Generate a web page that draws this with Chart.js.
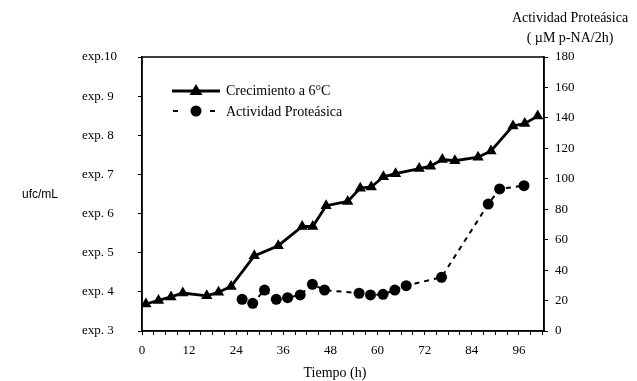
<!DOCTYPE html>
<html>
<head>
<meta charset="utf-8">
<script src="https://cdn.jsdelivr.net/npm/chart.js@4.4.1/dist/chart.umd.min.js"></script>
<style>
  html, body { margin: 0; padding: 0; background: #fff; }
</style>
</head>
<body>
<canvas id="chart" width="637" height="381"></canvas>
<script>
// growth at 6 C (log ufc/mL) and protease activity (uM p-NA/2h)
const growthHours = [1, 4.2, 7.4, 10.4, 16.5, 19.5, 22.7, 28.6, 34.7, 40.8, 43.5, 46.9, 52.4, 55.6, 58.4, 61.5, 64.6, 70.6, 73.5, 76.5, 79.7, 85.6, 88.9, 94.5, 97.5, 100.8];
const growthLog = [3.69, 3.78, 3.87, 3.97, 3.90, 3.99, 4.14, 4.92, 5.18, 5.67, 5.67, 6.20, 6.31, 6.65, 6.68, 6.94, 7.02, 7.15, 7.21, 7.38, 7.35, 7.44, 7.60, 8.24, 8.30, 8.49];

const proteaseHours = [25.5, 28.2, 31.2, 34.2, 37.1, 40.3, 43.4, 46.5, 55.3, 58.2, 61.4, 64.4, 67.3, 76.3, 88.2, 91.1, 97.3];
const proteaseActivity = [20.8, 18.2, 26.9, 20.8, 21.9, 23.7, 30.7, 26.9, 24.8, 23.7, 24.1, 26.9, 29.8, 35.3, 83.4, 93.3, 95.5];

const xTicks = [0, 3, 6, 9, 12, 15, 18, 21, 24, 27, 30, 33, 36, 39, 42, 45, 48, 51, 54, 57, 60, 63, 66, 69, 72, 75, 78, 81, 84, 87, 90, 93, 96, 99, 102];
const leftTicks = [3, 4, 5, 6, 7, 8, 9, 10];
const rightTicks = [0, 20, 40, 60, 80, 100, 120, 140, 160, 180];

const labels = ["Crecimiento a 6°C", "Actividad Proteásica"];

const serif = "'Liberation Serif', 'Times New Roman', serif";

const extras = {
    id: "extras",
    afterDraw(chart) {
        const ctx = chart.ctx;
        const a = chart.chartArea;
        ctx.save();
        // plot frame
        ctx.strokeStyle = "#000";
        ctx.lineWidth = 1.5;
        ctx.strokeRect(a.left, a.top, a.right - a.left, a.bottom - a.top);

        // axis titles
        ctx.fillStyle = "#000";
        ctx.textBaseline = "middle";
        ctx.textAlign = "center";
        ctx.font = "12px 'Liberation Sans', Arial, sans-serif";
        ctx.fillText("ufc/mL", 40, 195);
        ctx.font = "14px " + serif;
        ctx.fillText("Actividad Proteásica", 570, 18);
        ctx.fillText("( µM p-NA/2h)", 570, 38);
        ctx.fillText("Tiempo (h)", 335, 373);

        // legend inside plot
        ctx.lineWidth = 2.8;
        ctx.beginPath();
        ctx.moveTo(172, 91);
        ctx.lineTo(220, 91);
        ctx.stroke();
        ctx.beginPath();
        ctx.moveTo(196, 84);
        ctx.lineTo(202.5, 95);
        ctx.lineTo(189.5, 95);
        ctx.closePath();
        ctx.fill();

        ctx.lineWidth = 2;
        ctx.beginPath();
        ctx.moveTo(173, 111);
        ctx.lineTo(178, 111);
        ctx.moveTo(210, 111);
        ctx.lineTo(215, 111);
        ctx.stroke();
        ctx.beginPath();
        ctx.arc(196, 111, 5.5, 0, Math.PI * 2);
        ctx.fill();

        ctx.textAlign = "left";
        ctx.font = "14px " + serif;
        ctx.fillText(labels[0], 226, 91);
        ctx.fillText(labels[1], 226, 112);
        ctx.restore();
    }
};

new Chart(document.getElementById("chart"), {
    type: "line",
    data: {
        datasets: [{
            label: labels[0],
            data: growthHours.map((h, i) => ({ x: h, y: growthLog[i] })),
            yAxisID: "y",
            borderColor: "#000",
            backgroundColor: "#000",
            borderWidth: 2.8,
            pointStyle: "triangle",
            pointRadius: 6.5,
            pointBorderWidth: 0,
            tension: 0
        }, {
            label: labels[1],
            data: proteaseHours.map((h, i) => ({ x: h, y: proteaseActivity[i] })),
            yAxisID: "y1",
            borderColor: "#000",
            backgroundColor: "#000",
            borderWidth: 2,
            borderDash: [5, 5],
            pointStyle: "circle",
            pointRadius: 5.5,
            pointBorderWidth: 0,
            tension: 0
        }]
    },
    options: {
        responsive: false,
        animation: false,
        layout: { padding: { left: 82, top: 57, right: 0, bottom: 0 } },
        plugins: {
            legend: { display: false },
            tooltip: { enabled: false }
        },
        scales: {
            x: {
                type: "linear",
                min: 0,
                max: 102.4,
                afterBuildTicks: s => { s.ticks = xTicks.map(v => ({ value: v })); },
                afterFit: s => { s.height = 50; },
                grid: { drawOnChartArea: false, color: "#000", tickLength: 4 },
                border: { color: "#000", width: 1.5 },
                ticks: {
                    autoSkip: false,
                    maxRotation: 0,
                    padding: 8,
                    color: "#000",
                    font: { family: serif, size: 13 },
                    callback: v => (v % 12 === 0 ? String(v) : "")
                }
            },
            y: {
                position: "left",
                min: 3,
                max: 10,
                afterBuildTicks: s => { s.ticks = leftTicks.map(v => ({ value: v })); },
                afterFit: s => { s.width = 60; },
                grid: { drawOnChartArea: false, color: "#000", tickLength: 4 },
                border: { color: "#000", width: 1.5 },
                ticks: {
                    crossAlign: "far",
                    color: "#000",
                    font: { family: serif, size: 13 },
                    callback: v => (v === 10 ? "exp.10" : "exp. " + v)
                }
            },
            y1: {
                position: "right",
                min: 0,
                max: 180,
                afterBuildTicks: s => { s.ticks = rightTicks.map(v => ({ value: v })); },
                afterFit: s => { s.width = 93; },
                grid: { drawOnChartArea: false, color: "#000", tickLength: 4 },
                border: { color: "#000", width: 1.5 },
                ticks: {
                    padding: 7,
                    color: "#000",
                    font: { family: serif, size: 13 }
                }
            }
        }
    },
    plugins: [extras]
});
</script>
</body>
</html>
